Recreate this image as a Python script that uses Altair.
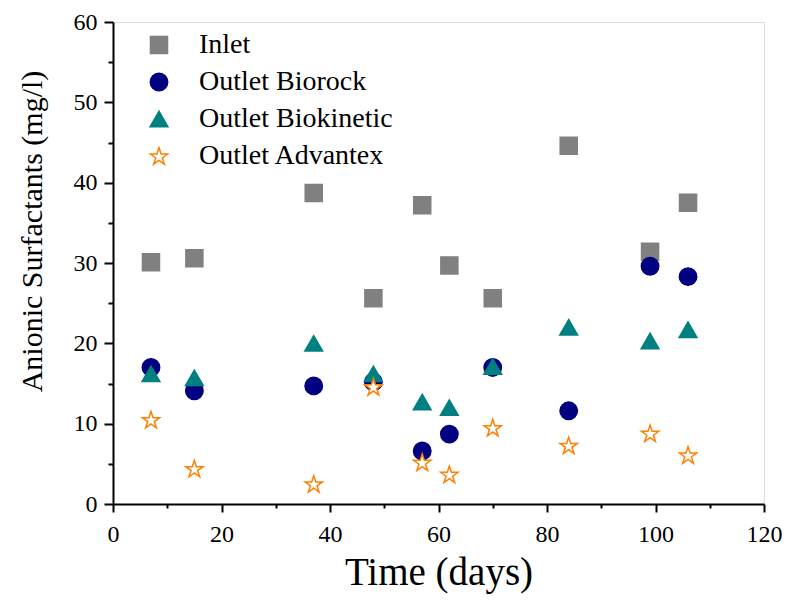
import altair as alt
import pandas as pd

days = [7, 15, 37, 48, 57, 62, 70, 84, 99, 106]
inlet = [30.1, 30.6, 38.7, 25.6, 37.2, 29.7, 25.6, 44.6, 31.4, 37.5]
biorock = [17.0, 14.1, 14.7, 15.2, 6.6, 8.7, 17.0, 11.6, 29.6, 28.3]
biokinetic = [16.2, 15.7, 20.0, 16.2, 12.7, 12.0, 17.1, 22.0, 20.3, 21.7]
advantex = [10.5, 4.4, 2.5, 14.6, 5.2, 3.7, 9.5, 7.3, 8.8, 6.1]

series_names = ["Inlet", "Outlet Biorock", "Outlet Biokinetic", "Outlet Advantex"]
series_values = [inlet, biorock, biokinetic, advantex]
x_ticks = [0, 10, 20, 30, 40, 50, 60, 70, 80, 90, 100, 110, 120]
y_ticks = [0, 5, 10, 15, 20, 25, 30, 35, 40, 45, 50, 55, 60]

rows = []
for name, vals in zip(series_names, series_values):
    for d, v in zip(days, vals):
        rows.append({"Time": d, "Value": v, "Series": name})
df = pd.DataFrame(rows)

star = ("M0,-0.9045L0.2245,-0.2135L0.9511,-0.2135L0.3633,0.2135L0.5878,0.9045"
        "L0,0.4775L-0.5878,0.9045L-0.3633,0.2135L-0.9511,-0.2135L-0.2245,-0.2135Z")

FONT = "Liberation Serif"

fill_scale = alt.Scale(domain=series_names, range=["#808080", "#000080", "#008080", "white"])
stroke_scale = alt.Scale(domain=series_names, range=["#808080", "#000080", "#008080", "#FF8000"])
shape_scale = alt.Scale(domain=series_names, range=["square", "circle", "triangle-up", star])
size_scale = alt.Scale(domain=series_names, range=[290, 330, 560, 520])

legend = alt.Legend(
    orient="none", legendX=32, legendY=9, padding=0,
    labelFont=FONT, labelFontSize=28, labelColor="black", labelLimit=400,
    labelOffset=26, rowPadding=9, symbolStrokeWidth=1.5,
)

x_axis = alt.Axis(
    values=x_ticks,
    labelExpr="datum.value % 20 === 0 ? datum.label : ''",
    tickSize={"condition": {"test": "datum.value % 20 === 0", "value": 8}, "value": 4},
    labelFlush=False, labelPadding=10, labelFontSize=24, labelFont=FONT, labelColor="black",
    titleFont=FONT, titleFontSize=39, titleFontWeight="normal", titleColor="black",
    titleY=80, titleBaseline="alphabetic",
    domainColor="black", domainWidth=2, tickColor="black", tickWidth=2,
    grid=False,
)
y_axis = alt.Axis(
    values=y_ticks,
    labelExpr="datum.value % 10 === 0 ? datum.label : ''",
    tickSize={"condition": {"test": "datum.value % 10 === 0", "value": 9}, "value": 5},
    labelPadding=7, labelFontSize=24, labelFont=FONT, labelColor="black",
    titleFont=FONT, titleFontSize=30, titleFontWeight="normal", titleColor="black",
    titleX=-81, titleY=209, titleBaseline="middle",
    domainColor="black", domainWidth=2, tickColor="black", tickWidth=2,
    grid=False,
)

chart = alt.Chart(df).mark_point(filled=True, opacity=1, strokeWidth=1.5).encode(
    x=alt.X("Time:Q", title="Time (days)",
            scale=alt.Scale(domain=[0, 120], nice=False, zero=False), axis=x_axis),
    y=alt.Y("Value:Q", title="Anionic Surfactants (mg/l)",
            scale=alt.Scale(domain=[0, 60], nice=False), axis=y_axis),
    fill=alt.Fill("Series:N", scale=fill_scale, legend=legend, title=None),
    stroke=alt.Stroke("Series:N", scale=stroke_scale, legend=legend, title=None),
    shape=alt.Shape("Series:N", scale=shape_scale, legend=legend, title=None),
    size=alt.Size("Series:N", scale=size_scale, legend=legend, title=None),
).properties(
    width=651, height=482,
    autosize=alt.AutoSizeParams(type="none"),
    padding={"left": 105, "top": 14, "right": 18, "bottom": 90},
).configure_view(
    stroke="black", strokeWidth=2
).configure(background="white", font=FONT)

chart.save("out.html", embed_options={"renderer": "svg", "actions": False})
